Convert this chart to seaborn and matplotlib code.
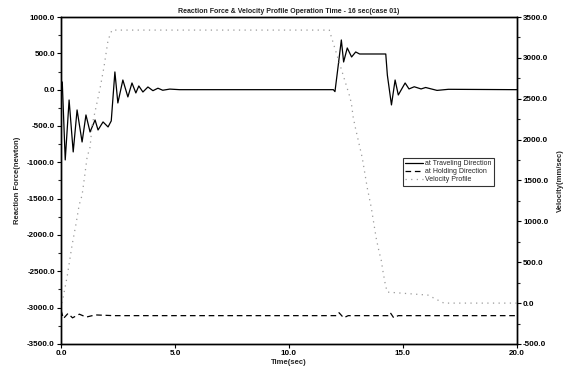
import matplotlib
matplotlib.use("Agg")
import matplotlib.pyplot as plt
import seaborn as sns
import pandas as pd
from matplotlib.ticker import MultipleLocator, FormatStrFormatter
from matplotlib.lines import Line2D

# ---- data ----
trav_t = [0.0, 0.05, 0.18, 0.35, 0.53, 0.70, 0.92, 1.09, 1.27, 1.49, 1.62, 1.84, 2.06, 2.20,
          2.36, 2.49, 2.71, 2.93, 3.11, 3.28, 3.41, 3.59, 3.81, 4.03, 4.25, 4.46, 4.77, 5.2,
          11.95, 12.02, 12.15, 12.30, 12.40, 12.56, 12.75, 12.93, 13.10, 14.25, 14.32,
          14.50, 14.66, 14.80, 15.10, 15.27, 15.50, 15.80, 16.00, 16.50, 17.00, 20.0]
trav_f = [0, 106, -967, -142, -857, -279, -720, -348, -582, -417, -555, -444, -513, -430,
          244, -183, 133, -100, 92, -45, 51, -32, 37, -14, 20, -8, 8, 0,
          0, -27, 300, 684, 381, 574, 450, 519, 491, 491, 200,
          -210, 133, -73, 92, 10, 40, 10, 30, -10, 5, 0]

hold_t = [0.0, 0.1, 0.3, 0.5, 0.8, 1.1, 1.5, 2.3, 12.1, 12.2, 12.4, 12.6,
          14.35, 14.45, 14.6, 14.8, 20.0]
hold_f = [-3040, -3150, -3080, -3140, -3090, -3130, -3100, -3110, -3110, -3070, -3140, -3110,
          -3110, -3070, -3140, -3110, -3110]

vel_t = [0.04, 0.26, 0.48, 0.66, 0.79, 0.92, 1.05, 1.14, 1.27, 1.36, 1.58, 1.71, 1.88, 2.06, 2.23,
         11.77, 12.65, 12.74, 12.82, 12.91, 13.04, 13.22, 13.44, 13.61, 13.83, 13.96, 14.05,
         14.14, 14.22, 14.31, 16.1, 16.8, 20.0]
vel_v = [0, 318, 709, 979, 1199, 1321, 1590, 1786, 1908, 2177, 2459, 2630, 2887, 3217, 3340,
         3340, 2544, 2446, 2275, 2153, 1994, 1774, 1407, 1174, 795, 624, 526,
         367, 245, 135, 98, 0, 0]

title = "Reaction Force & Velocity Profile Operation Time - 16 sec(case 01)"
labels = ["at Traveling Direction", "at Holding Direction", "Velocity Profile"]

# ---- plotting ----
sns.set_theme(style="ticks")
plt.rcParams["font.family"] = ["Liberation Sans", "DejaVu Sans"]

fig = plt.figure(figsize=(5.66, 3.78), dpi=100)
ax = fig.add_axes([0.108, 0.090, 0.805, 0.865])
ax2 = ax.twinx()

df_t = pd.DataFrame({"t": trav_t, "f": trav_f})
df_h = pd.DataFrame({"t": hold_t, "f": hold_f})
df_v = pd.DataFrame({"t": vel_t, "v": vel_v})

vel_color = "#9a9a9a"
vel_style = (0, (1, 3.5))
hold_style = (0, (4.5, 3))

sns.lineplot(data=df_t, x="t", y="f", ax=ax, color="black", lw=0.9, estimator=None, sort=False)
sns.lineplot(data=df_h, x="t", y="f", ax=ax, color="black", lw=0.9, estimator=None, sort=False)
ax.lines[-1].set_linestyle(hold_style)
sns.lineplot(data=df_v, x="t", y="v", ax=ax2, color=vel_color, lw=0.9, estimator=None, sort=False)
ax2.lines[-1].set_linestyle(vel_style)

ax.set_xlim(0, 20)
ax.set_ylim(-3500, 1000)
ax2.set_ylim(-500, 3500)

ax.xaxis.set_major_locator(MultipleLocator(5))
ax.yaxis.set_major_locator(MultipleLocator(500))
ax.yaxis.set_minor_locator(MultipleLocator(250))
ax2.yaxis.set_major_locator(MultipleLocator(500))
ax2.yaxis.set_minor_locator(MultipleLocator(250))
for a in (ax, ax2):
    a.xaxis.set_major_formatter(FormatStrFormatter("%.1f"))
    a.yaxis.set_major_formatter(FormatStrFormatter("%.1f"))
    a.tick_params(axis="both", which="major", labelsize=5.8, length=3, width=0.8, pad=1.5,
                  direction="out", colors="black")
    a.tick_params(axis="both", which="minor", length=2, width=0.8, direction="out")
    for lab in a.get_xticklabels() + a.get_yticklabels():
        lab.set_fontweight("bold")
    for s in a.spines.values():
        s.set_color("black")
        s.set_linewidth(1.0)
        s.set_visible(True)

ax.set_xlabel("Time(sec)", fontsize=5.5, fontweight="bold", labelpad=1)
ax.set_ylabel("Reaction Force(newton)", fontsize=5.5, fontweight="bold", labelpad=4)
ax2.set_ylabel("Velocity(mm/sec)", fontsize=5.5, fontweight="bold", labelpad=6)
ax.set_title(title, fontsize=5, fontweight="bold", pad=3, color="#222222")

handles = [Line2D([], [], color="black", lw=0.9),
           Line2D([], [], color="black", lw=0.9, linestyle=hold_style),
           Line2D([], [], color=vel_color, lw=0.9, linestyle=vel_style)]
leg = ax2.legend(handles, labels, loc="upper left", bbox_to_anchor=(0.75, 0.57),
                 fontsize=5, frameon=True, fancybox=False, labelspacing=0.15,
                 handlelength=2.6, handletextpad=0.3, borderpad=0.35, borderaxespad=0)
leg.get_frame().set_edgecolor("black")
leg.get_frame().set_linewidth(0.8)

fig.savefig("out.png", dpi=100)
